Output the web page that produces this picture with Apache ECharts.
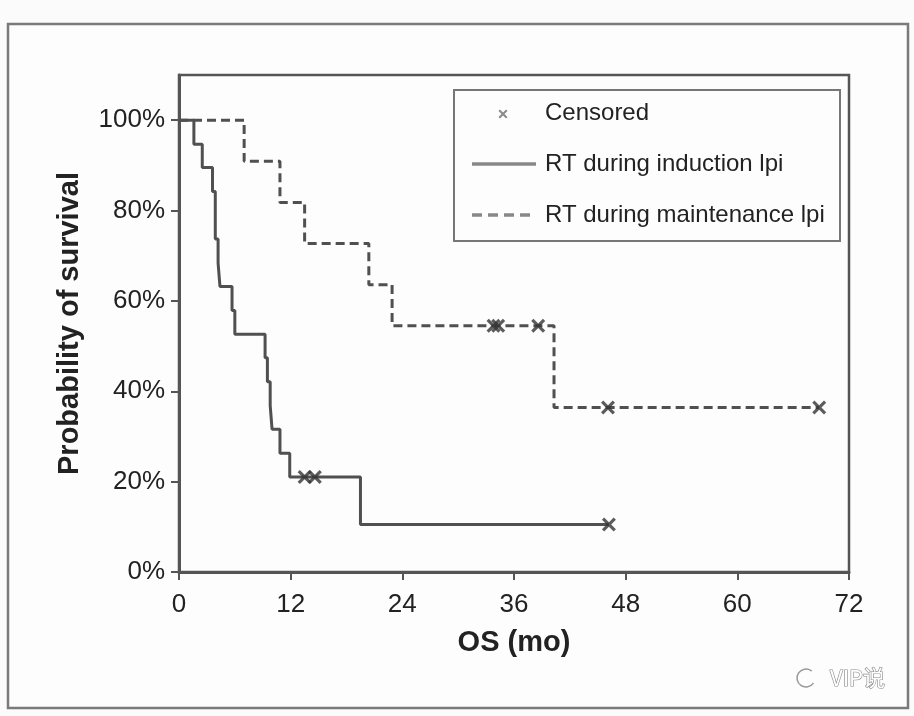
<!DOCTYPE html>
<html>
<head>
<meta charset="utf-8">
<script src="https://cdn.jsdelivr.net/npm/echarts@6/dist/echarts.min.js"></script>
<style>
html,body{margin:0;padding:0;background:#fbfbfb;}
#c{width:914px;height:716px;}
</style>
</head>
<body>
<div id="c"></div>
<script>
// ---- data ----
var xTicks = [0, 12, 24, 36, 48, 60, 72];
var yTicks = [0, 20, 40, 60, 80, 100];
var seriesNames = ['RT during induction Ipi', 'RT during maintenance Ipi'];
var censoredName = 'Censored';
// Kaplan-Meier step points [months, survival %]
var inductionSteps = [
  [0, 100], [1.6, 94.7], [2.5, 89.5], [3.6, 84.2], [3.9, 73.7], [4.2, 68.4],
  [4.4, 63.2], [5.7, 57.9], [6.0, 52.6], [9.25, 47.4], [9.5, 42.1], [9.8, 36.8],
  [10.0, 31.6], [10.85, 26.3], [11.9, 21.05], [19.5, 10.5], [46.2, 10.5]
];
var maintenanceSteps = [
  [0, 100], [7.0, 90.9], [10.85, 81.8], [13.5, 72.7], [20.4, 63.6],
  [22.9, 54.5], [40.3, 36.4], [68.8, 36.4]
];
var inductionCensored = [[13.5, 21.05], [14.6, 21.05], [46.2, 10.5]];
var maintenanceCensored = [[33.8, 54.5], [34.3, 54.5], [38.6, 54.5], [46.1, 36.4], [68.8, 36.4]];
var xName = 'OS (mo)';
var yName = 'Probability of survival';
var watermark = 'VIP说';

var FONT = '"Liberation Sans", Arial, Helvetica, sans-serif';
var XPATH = 'path://M0,1.6L1.6,0L5,3.4L8.4,0L10,1.6L6.6,5L10,8.4L8.4,10L5,6.6L1.6,10L0,8.4L3.4,5Z';

function xPoly(cx, cy, s) {
  var raw = [[0,1.6],[1.6,0],[5,3.4],[8.4,0],[10,1.6],[6.6,5],[10,8.4],[8.4,10],[5,6.6],[1.6,10],[0,8.4],[3.4,5]];
  return raw.map(function (p) { return [cx + (p[0] - 5) * s / 10, cy + (p[1] - 5) * s / 10]; });
}

var chart = echarts.init(document.getElementById('c'), null, {renderer: 'canvas'});
var option = {
  backgroundColor: '#fbfbfb',
  animation: false,
  grid: {
    left: 179, right: 65, top: 75, bottom: 144,
    show: true, borderColor: '#555', borderWidth: 2.5, backgroundColor: 'transparent', z: 3
  },
  xAxis: {
    type: 'value', min: 0, max: 72, interval: 12,
    name: xName, nameLocation: 'middle', nameGap: 56,
    nameTextStyle: {fontFamily: FONT, fontSize: 29, fontWeight: 'bold', color: '#222'},
    axisLine: {show: true, lineStyle: {color: '#555', width: 3}},
    axisTick: {show: true, length: 8, lineStyle: {color: '#555', width: 2}},
    axisLabel: {fontFamily: FONT, fontSize: 26, color: '#222', margin: 20},
    splitLine: {show: false}
  },
  yAxis: {
    type: 'value', min: 0, max: 110,
    name: yName, nameLocation: 'middle', nameGap: 95, nameRotate: 90,
    nameTextStyle: {fontFamily: FONT, fontSize: 29, fontWeight: 'bold', color: '#222'},
    axisLine: {show: true, lineStyle: {color: '#555', width: 3}},
    axisTick: {show: true, length: 8, customValues: yTicks, lineStyle: {color: '#555', width: 2}},
    axisLabel: {fontFamily: FONT, fontSize: 26, color: '#222', margin: 14,
      customValues: yTicks, formatter: function (v) { return v + '%'; }},
    splitLine: {show: false}
  },
  series: [
    {
      name: seriesNames[0], type: 'line', step: 'end', data: inductionSteps,
      symbol: 'none', lineStyle: {color: '#505050', width: 3, type: 'solid'}, z: 4
    },
    {
      name: seriesNames[1], type: 'line', step: 'end', data: maintenanceSteps,
      symbol: 'none', lineStyle: {color: '#505050', width: 3, type: [9, 5]}, z: 4
    },
    {
      name: censoredName, type: 'scatter', data: inductionCensored.concat(maintenanceCensored),
      symbol: XPATH, symbolSize: 14, itemStyle: {color: '#333'}, z: 5
    }
  ],
  graphic: [
    {type: 'rect', z: -10, shape: {x: 8, y: 24, width: 900, height: 684},
      style: {fill: '#fdfdfd', stroke: '#7a7a7a', lineWidth: 2.5}},
    {type: 'rect', z: 10, shape: {x: 454, y: 90, width: 386, height: 151},
      style: {fill: '#fdfdfd', stroke: '#777', lineWidth: 2}},
    {type: 'polygon', z: 11, shape: {points: xPoly(503, 114, 9)},
      style: {fill: '#8a8a8a'}},
    {type: 'text', z: 11, x: 545, y: 113,
      style: {text: censoredName, font: '24px ' + FONT, fill: '#222', verticalAlign: 'middle'}},
    {type: 'line', z: 11, shape: {x1: 472, y1: 164, x2: 536, y2: 164},
      style: {stroke: '#888', lineWidth: 3.5}},
    {type: 'text', z: 11, x: 545, y: 164,
      style: {text: seriesNames[0].replace('Ipi', 'lpi'), font: '24px ' + FONT, fill: '#222', verticalAlign: 'middle'}},
    {type: 'line', z: 11, shape: {x1: 472, y1: 215, x2: 536, y2: 215},
      style: {stroke: '#888', lineWidth: 3.5, lineDash: [10, 6]}},
    {type: 'text', z: 11, x: 545, y: 215,
      style: {text: seriesNames[1].replace('Ipi', 'lpi'), font: '24px ' + FONT, fill: '#222', verticalAlign: 'middle'}},
    {type: 'arc', z: 11, shape: {cx: 806, cy: 678, r: 9, startAngle: 0.6, endAngle: 5.4},
      style: {stroke: '#999', lineWidth: 1.5, fill: 'none'}},
    {type: 'text', z: 11, x: 830, y: 678,
      style: {text: watermark, font: '22px "Noto Sans CJK SC", ' + FONT, fill: '#fff', stroke: '#888', lineWidth: 1.2, verticalAlign: 'middle'}}
  ]
};
chart.setOption(option);
</script>
</body>
</html>
